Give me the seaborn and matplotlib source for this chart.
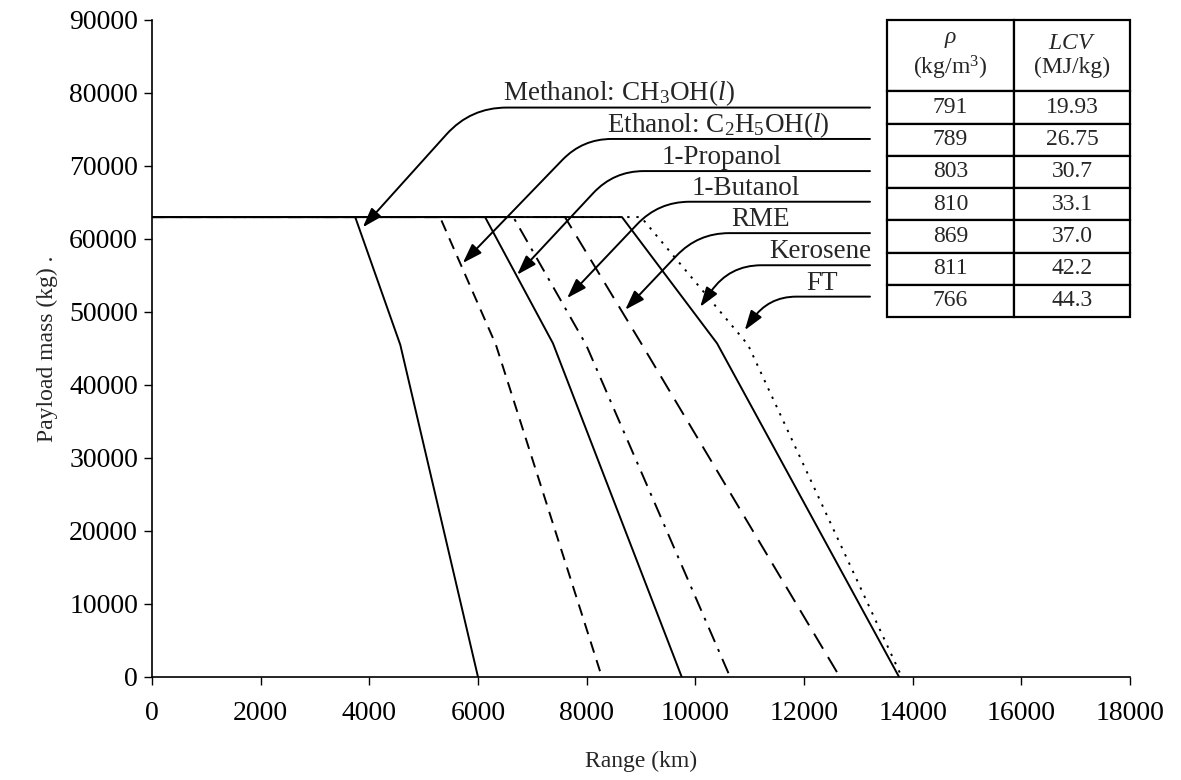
import pandas as pd
import matplotlib
matplotlib.use("Agg")
import matplotlib.pyplot as plt
import seaborn as sns

# Payload-range data (km, kg)
fuels = ["Methanol", "Ethanol", "1-Propanol", "1-Butanol", "RME", "Kerosene", "FT"]
max_payload = 63000
range_at_max = [3740, 5300, 6130, 6650, 7600, 8650, 9000]
kink_payload = [45500, 45500, 45700, 45500, 45500, 45700, 45500]
range_at_kink = [4570, 6330, 7380, 7990, 9020, 10400, 10970]
ferry_range = [6000, 8280, 9750, 10640, 12660, 13750, 13800]

# table values
density = ["791", "789", "803", "810", "869", "811", "766"]
lcv = ["19.93", "26.75", "30.7", "33.1", "37.0", "42.2", "44.3"]

labels = ["Methanol: CH$_3$OH($l$)", "Ethanol: C$_2$H$_5$OH($l$)", "1-Propanol",
          "1-Butanol", "RME", "Kerosene", "FT"]

# callout placement
label_y = [78000, 73700, 69300, 65100, 60800, 56400, 52100]
label_x = [8600, 10420, 10490, 10930, 11210, 12300, 12330]
tip_x = [3880, 5720, 6720, 7640, 8710, 10090, 10910]
tip_y = [61600, 56700, 55100, 51900, 50300, 50700, 47500]
tip_angle = [48, 46, 47, 46.5, 46.5, 55, 55]
corner_rad = [36, 29, 30, 31, 31, 32, 28]
line_end = 13215

rows = []
for i, f in enumerate(fuels):
    rows.append((f, 0, max_payload))
    rows.append((f, range_at_max[i], max_payload))
    rows.append((f, range_at_kink[i], kink_payload[i]))
    rows.append((f, ferry_range[i], 0))
df = pd.DataFrame(rows, columns=["fuel", "range", "payload"])

sns.set_theme(style="ticks")
plt.rcParams["font.family"] = ["Liberation Serif", "DejaVu Serif"]
plt.rcParams["mathtext.fontset"] = "custom"
plt.rcParams["mathtext.rm"] = "Liberation Serif"
plt.rcParams["mathtext.it"] = "Liberation Serif:italic"
plt.rcParams["mathtext.bf"] = "Liberation Serif:bold"

fig = plt.figure(figsize=(11.81, 7.80), dpi=100)
ax = fig.add_axes([0.1287, 0.1321, 0.8281, 0.8423])

dash_map = {"Methanol": "", "Ethanol": (6, 4), "1-Propanol": "", "1-Butanol": (8, 4, 1.5, 4),
            "RME": (9, 5), "Kerosene": "", "FT": (1.2, 3.5)}
sns.lineplot(data=df, x="range", y="payload", hue="fuel", style="fuel",
             palette=["black"] * len(fuels), dashes=dash_map, estimator=None,
             sort=False, legend=False, linewidth=1.4, ax=ax)

ax.set_xlim(0, 18000)
ax.set_ylim(0, 90000)
ax.set_xticks(range(0, 18001, 2000))
ax.set_yticks(range(0, 90001, 10000))
sns.despine(ax=ax)
for s in ["left", "bottom"]:
    ax.spines[s].set_color("black")
    ax.spines[s].set_linewidth(1.2)
ax.tick_params(axis="both", direction="out", length=6, width=1.0, colors="black", labelsize=20)
ax.tick_params(axis="x", pad=11)
ax.tick_params(axis="y", pad=4)
ax.set_xlabel("Range (km)", fontsize=17, labelpad=18)
ax.set_ylabel("Payload mass (kg) .", fontsize=17, labelpad=8)

# callouts
for i in range(len(fuels)):
    ax.annotate("", xy=(tip_x[i], tip_y[i]), xytext=(line_end, label_y[i]),
                arrowprops=dict(arrowstyle="-|>,head_length=0.6,head_width=0.2",
                                connectionstyle=f"angle,angleA=0,angleB={tip_angle[i]},rad={corner_rad[i]}",
                                color="black", lw=1.4, shrinkA=0, shrinkB=0, mutation_scale=20))
    ax.text(label_x[i], label_y[i] + 960, labels[i], ha="center", va="baseline", fontsize=19.5)

# property table
cell_text = [["$\\rho$\n(kg/m$^3$)", "$LCV$\n(MJ/kg)"]] + [[d, v] for d, v in zip(density, lcv)]
tab = ax.table(cellText=cell_text, cellLoc="center", colWidths=[127, 116],
               bbox=[0.7515, 0.548, 0.2485, 0.452])
tab.auto_set_font_size(False)
tab.set_fontsize(17)
for (r, c), cell in tab.get_celld().items():
    cell.set_height(71 if r == 0 else 32)
    cell.set_linewidth(1.6)
    cell.set_edgecolor("black")

fig.savefig("out.png", dpi=100)
